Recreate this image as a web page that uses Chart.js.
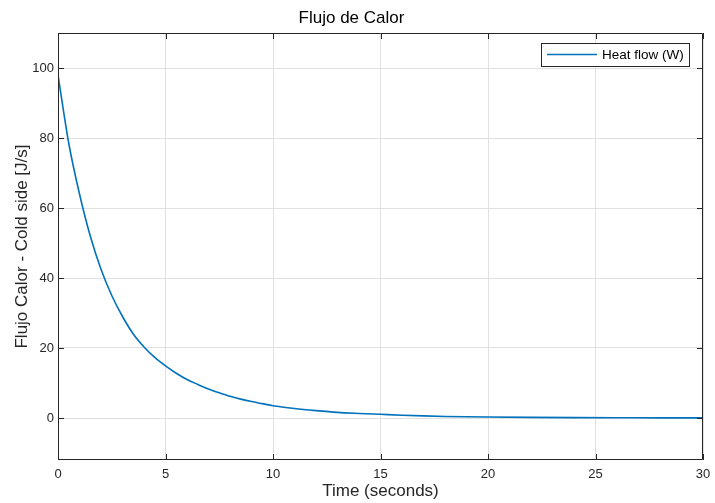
<!DOCTYPE html>
<html>
<head>
<meta charset="utf-8">
<script src="https://cdn.jsdelivr.net/npm/chart.js@4"></script>
<style>
  html, body { margin: 0; padding: 0; background: #fff; }
  #wrap { width: 715px; height: 503px; }
</style>
</head>
<body>
<div id="wrap"><canvas id="heat-chart"></canvas></div>
<script>
// time samples (s) and heat flow
const timeSec = [0, 0.5, 1, 1.5, 2, 2.5, 3, 3.5, 4, 4.5, 5, 5.5, 6, 6.5, 7, 7.5, 8, 8.5, 9, 9.5,
  10, 11, 12, 13, 14, 15, 16, 17, 18, 19, 20, 22, 24, 26, 28, 30];
const heatFlow = [98, 78.5, 64, 52, 42.5, 35, 29, 24, 20.3, 17.3, 14.9, 12.8, 11, 9.6, 8.3, 7.2, 6.2, 5.4, 4.7, 4.1,
  3.5, 2.7, 2.1, 1.6, 1.3, 1.05, 0.8, 0.6, 0.45, 0.35, 0.28, 0.18, 0.12, 0.08, 0.05, 0.03];
const xTicks = [0, 5, 10, 15, 20, 25, 30];
const yTicks = [0, 20, 40, 60, 80, 100];

const FONT = '"Liberation Sans", Arial, Helvetica, sans-serif';
const AXIS_COLOR = '#262626';

// MATLAB style box with inward ticks + legend inside plot
const boxPlugin = {
  id: 'matlabBox',
  afterDatasetsDraw(chart) {
    const { ctx, chartArea: a, scales } = chart;
    const L = 6;
    ctx.save();
    ctx.strokeStyle = AXIS_COLOR;
    ctx.lineWidth = 1;
    ctx.beginPath();
    ctx.rect(a.left + 0.5, a.top + 0.5, a.right - a.left - 1, a.bottom - a.top - 1);
    xTicks.forEach(v => {
      const x = Math.round(scales.x.getPixelForValue(v)) + 0.5;
      ctx.moveTo(x, a.bottom); ctx.lineTo(x, a.bottom - L);
      ctx.moveTo(x, a.top); ctx.lineTo(x, a.top + L);
    });
    yTicks.forEach(v => {
      const y = Math.round(scales.y.getPixelForValue(v)) + 0.5;
      ctx.moveTo(a.left, y); ctx.lineTo(a.left + L, y);
      ctx.moveTo(a.right, y); ctx.lineTo(a.right - L, y);
    });
    ctx.stroke();

    // legend
    const ds = chart.data.datasets[0];
    const bw = 148, bh = 23;
    const bx = a.right - 14 - bw, by = a.top + 10;
    ctx.fillStyle = '#fff';
    ctx.fillRect(bx, by, bw, bh);
    ctx.strokeStyle = AXIS_COLOR;
    ctx.strokeRect(bx + 0.5, by + 0.5, bw, bh);
    ctx.strokeStyle = ds.borderColor;
    ctx.lineWidth = 1.5;
    ctx.beginPath();
    ctx.moveTo(bx + 6, by + 11.5); ctx.lineTo(bx + 56, by + 11.5);
    ctx.stroke();
    ctx.fillStyle = '#000';
    ctx.font = '13.5px ' + FONT;
    ctx.textBaseline = 'middle';
    ctx.fillText(ds.label, bx + 61, by + 12.5);
    ctx.restore();
  }
};

const heatConfig = {
  type: 'line',
  data: {
    datasets: [
      {
        label: 'Heat flow (W)',
        data: timeSec.map((t, i) => ({ x: t, y: heatFlow[i] })),
        borderColor: '#0072BD',
        borderWidth: 1.6,
        pointRadius: 0,
        cubicInterpolationMode: 'monotone',
        fill: false,
      },
    ],
  },
  options: {
    responsive: true,
    maintainAspectRatio: false,
    animation: false,
    layout: { padding: { left: 0, right: 12, top: 0, bottom: 0 } },
    plugins: {
      legend: { display: false },
      tooltip: { enabled: false },
      title: {
        display: true,
        text: 'Flujo de Calor',
        color: '#000',
        font: { family: FONT, size: 17, weight: 'normal', lineHeight: 1.2 },
        padding: { top: 8, bottom: 4.6 },
      },
    },
    scales: {
      x: {
        type: 'linear',
        min: 0,
        max: 30,
        afterBuildTicks: s => { s.ticks = xTicks.map(v => ({ value: v })); },
        afterFit: s => { s.height = 43; s.paddingLeft = 0; s.paddingRight = 0; },
        grid: { color: '#e0e0e0', drawTicks: false },
        border: { display: false },
        ticks: { color: AXIS_COLOR, padding: 7, maxRotation: 0, font: { family: FONT, size: 13 } },
        title: {
          display: true,
          text: 'Time (seconds)',
          color: AXIS_COLOR,
          font: { family: FONT, size: 17, lineHeight: 1.2 },
          padding: { top: 0, bottom: 1 },
        },
      },
      y: {
        min: -12,
        max: 110,
        afterBuildTicks: s => { s.ticks = yTicks.map(v => ({ value: v })); },
        afterFit: s => { s.width = 58; s.paddingTop = 0; s.paddingBottom = 0; },
        grid: { color: '#e0e0e0', drawTicks: false },
        border: { display: false },
        ticks: { color: AXIS_COLOR, padding: 4, font: { family: FONT, size: 13 } },
        title: {
          display: true,
          text: 'Flujo Calor - Cold side [J/s]',
          color: AXIS_COLOR,
          font: { family: FONT, size: 17, lineHeight: 1.2 },
          padding: { top: 12, bottom: 0 },
        },
      },
    },
  },
  plugins: [boxPlugin],
};

const heatChart = document.querySelector('#heat-chart');
new Chart(heatChart, heatConfig);
</script>
</body>
</html>
